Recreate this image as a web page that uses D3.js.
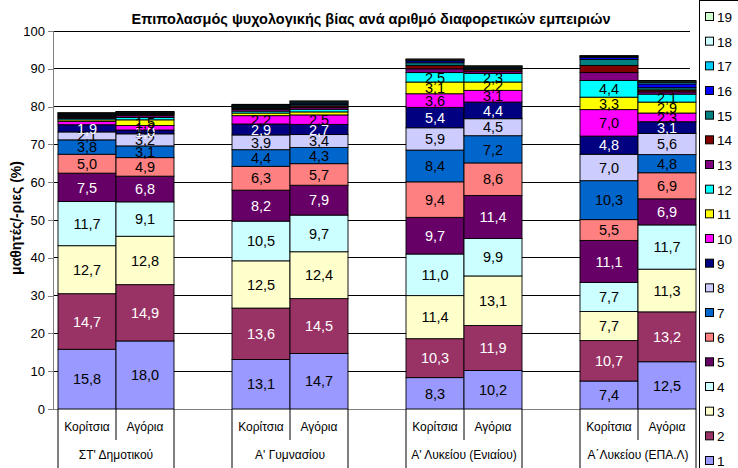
<!DOCTYPE html>
<html><head><meta charset="utf-8">
<script src="https://cdn.jsdelivr.net/npm/d3@7/dist/d3.min.js"></script>
<style>body{margin:0;background:#fff;}svg{display:block;font-family:"Liberation Sans",Arial,sans-serif;}</style>
</head><body><svg id="c" width="738" height="468"></svg>
<script>
const title = "Επιπολασμός ψυχολογικής βίας ανά αριθμό διαφορετικών εμπειριών";
const yLabel = "μαθητές/-ριες (%)";
const groups = ["ΣΤ' Δημοτικού", "Α' Γυμνασίου", "Α' Λυκείου (Ενιαίου)", "Α΄Λυκείου (ΕΠΑ.Λ)"];
const sexes = ["Κορίτσια", "Αγόρια"];
const seriesNames = ["1","2","3","4","5","6","7","8","9","10","11","12","13","14","15","16","17","18","19"];
const seriesColors = ["#9999FF","#993366","#FFFFCC","#CCFFFF","#660066","#FF8080","#0066CC","#CCCCFF","#000080","#FF00FF","#FFFF00","#00FFFF","#800080","#800000","#008080","#0000FF","#00CCFF","#CCFFFF","#CCFFCC"];
const yTicks = [0,10,20,30,40,50,60,70,80,90,100];

// values for series 1..19, one array per bar
const dimGirls = [15.8,14.7,12.7,11.7,7.5,5.0,3.8,2.1,1.9,0.9,0.4,0.4,0.3,0.2,0.3,0.2,0.2,0.2,0.1];
const dimBoys  = [18.0,14.9,12.8,9.1,6.8,4.9,3.1,3.2,1.0,1.2,1.5,0.6,0.5,0.3,0.2,0.2,0.2,0.1,0.1];
const gymGirls = [13.1,13.6,12.5,10.5,8.2,6.3,4.4,3.9,2.9,2.2,0.7,0.5,0.5,0.3,0.3,0.2,0.2,0.2,0.1];
const gymBoys  = [14.7,14.5,12.4,9.7,7.9,5.7,4.3,3.4,2.7,2.5,0.8,0.7,0.5,0.4,0.4,0.3,0.3,0.2,0.1];
const lykGirls = [8.3,10.3,11.4,11.0,9.7,9.4,8.4,5.9,5.4,3.6,3.1,2.5,1.0,0.9,0.7,0.5,0.2,0.2,0.1];
const lykBoys  = [10.2,11.9,13.1,9.9,11.4,8.6,7.2,4.5,4.4,3.1,2.2,2.3,0.6,0.5,0.3,0.2,0.2,0.1,0.1];
const epalGirls= [7.4,10.7,7.7,7.7,11.1,5.5,10.3,7.0,4.8,7.0,3.3,4.4,2.1,1.9,1.6,0.5,0.2,0.2,0.1];
const epalBoys = [12.5,13.2,11.3,11.7,6.9,6.9,4.8,5.6,3.1,2.3,2.9,2.1,0.6,0.5,0.6,1.0,0.4,0.3,0.2];

const barValues = [[dimGirls, dimBoys],[gymGirls, gymBoys],[lykGirls, lykBoys],[epalGirls, epalBoys]];

const svg = d3.select("#c");
const plotL = 53, plotR = 690, plotT = 31, plotB = 409;

// slots: each group has girls, boys, gap
const slots = [];
groups.forEach((g,gi)=>{ sexes.forEach(s=>slots.push(g+"|"+s)); slots.push(g+"|gap"); });
const x = d3.scaleBand().domain(slots).range([58, 58 + 58*slots.length]).paddingInner(0).paddingOuter(0);
const y = d3.scaleLinear().domain([0,100]).range([plotB, plotT]);

// gridlines
svg.append("g").selectAll("line").data(yTicks.filter(d=>d>0)).join("line")
  .attr("x1", plotL).attr("x2", plotR).attr("y1", d=>y(d)).attr("y2", d=>y(d))
  .attr("stroke","#000").attr("stroke-width",1).attr("shape-rendering","crispEdges");

// y axis
const yAxis = svg.append("g").attr("transform",`translate(${plotL},0)`)
  .call(d3.axisLeft(y).tickValues(yTicks).tickSize(5).tickPadding(3).tickFormat(d3.format("d")));
yAxis.select(".domain").attr("stroke","#808080").attr("shape-rendering","crispEdges");
yAxis.selectAll(".tick line").attr("stroke","#808080").attr("shape-rendering","crispEdges");
yAxis.selectAll("text").attr("font-size","13px").attr("fill","#000").attr("font-family","Liberation Sans, Arial, sans-serif");

// bars
const darkText = new Set(["2","5","9","13","14","16"]);
const fmt = v => v.toFixed(1).replace(".", ",");
groups.forEach((g,gi)=>{
  sexes.forEach((s,si)=>{
    const vals = barValues[gi][si];
    const key = g+"|"+s;
    let cum = 0;
    const segs = vals.map((v,i)=>{ const seg = {i, v, y0:cum, y1:cum+v}; cum += v; return seg; });
    const gb = svg.append("g");
    gb.selectAll("rect").data(segs).join("rect")
      .attr("x", x(key)).attr("width", x.bandwidth())
      .attr("y", d=>y(d.y1)).attr("height", d=>y(d.y0)-y(d.y1))
      .attr("fill", d=>seriesColors[d.i]).attr("stroke","#000").attr("stroke-width",0.9);
    gb.selectAll("text").data(segs.filter(d=>d.i<12 && d.v>=1.0)).join("text")
      .attr("x", x(key)+x.bandwidth()/2).attr("y", d=>y((d.y0+d.y1)/2))
      .attr("dy","0.36em").attr("text-anchor","middle").attr("font-size","14.5px")
      .attr("fill", d=>darkText.has(seriesNames[d.i])?"#fff":"#000")
      .text(d=>fmt(d.v));
  });
});

// x axis baseline
svg.append("line").attr("x1",plotL-5).attr("x2",plotR).attr("y1",plotB+0.5).attr("y2",plotB+0.5)
  .attr("stroke","#808080");

// category labels
const axisG = svg.append("g").attr("font-size","12px");
groups.forEach((g,gi)=>{
  const kx = x(g+"|"+sexes[0]), ax = x(g+"|"+sexes[1]);
  sexes.forEach(s=>{
    const k = g+"|"+s;
    axisG.append("text").attr("x", x(k)+x.bandwidth()/2).attr("y", 431).attr("text-anchor","middle").text(s);
  });
  axisG.append("line").attr("x1",ax).attr("x2",ax).attr("y1",plotB).attr("y2",440).attr("stroke","#000");
  axisG.append("line").attr("x1",kx).attr("x2",kx).attr("y1",plotB).attr("y2",468).attr("stroke","#000");
  axisG.append("line").attr("x1",ax+x.bandwidth()).attr("x2",ax+x.bandwidth()).attr("y1",plotB).attr("y2",468).attr("stroke","#000");
  axisG.append("text").attr("x", ax).attr("y", 459).attr("text-anchor","middle").text(g);
});

// title
svg.append("text").attr("x",371).attr("y",24).attr("text-anchor","middle")
  .attr("font-size","14.5px").attr("font-weight","bold").text(title);
// y label
svg.append("text").attr("transform","translate(21,218) rotate(-90)").attr("text-anchor","middle")
  .attr("font-size","14px").attr("font-weight","bold").text(yLabel);

// legend
const lg = svg.append("g");
lg.append("rect").attr("x",699.5).attr("y",0.5).attr("width",60).attr("height",480).attr("fill","#fff").attr("stroke","#000");
const items = seriesNames.map((n,i)=>({n,i})).reverse();
const ly = d3.scaleLinear().domain([0,18]).range([17,461]);
items.forEach((d,k)=>{
  lg.append("rect").attr("x",705.5).attr("y",ly(k)-4.5).attr("width",8).attr("height",8)
    .attr("fill",seriesColors[d.i]).attr("stroke","#000");
  lg.append("text").attr("x",717).attr("y",ly(k)).attr("dy","0.36em").attr("font-size","13.5px").text(d.n);
});
</script></body></html>
